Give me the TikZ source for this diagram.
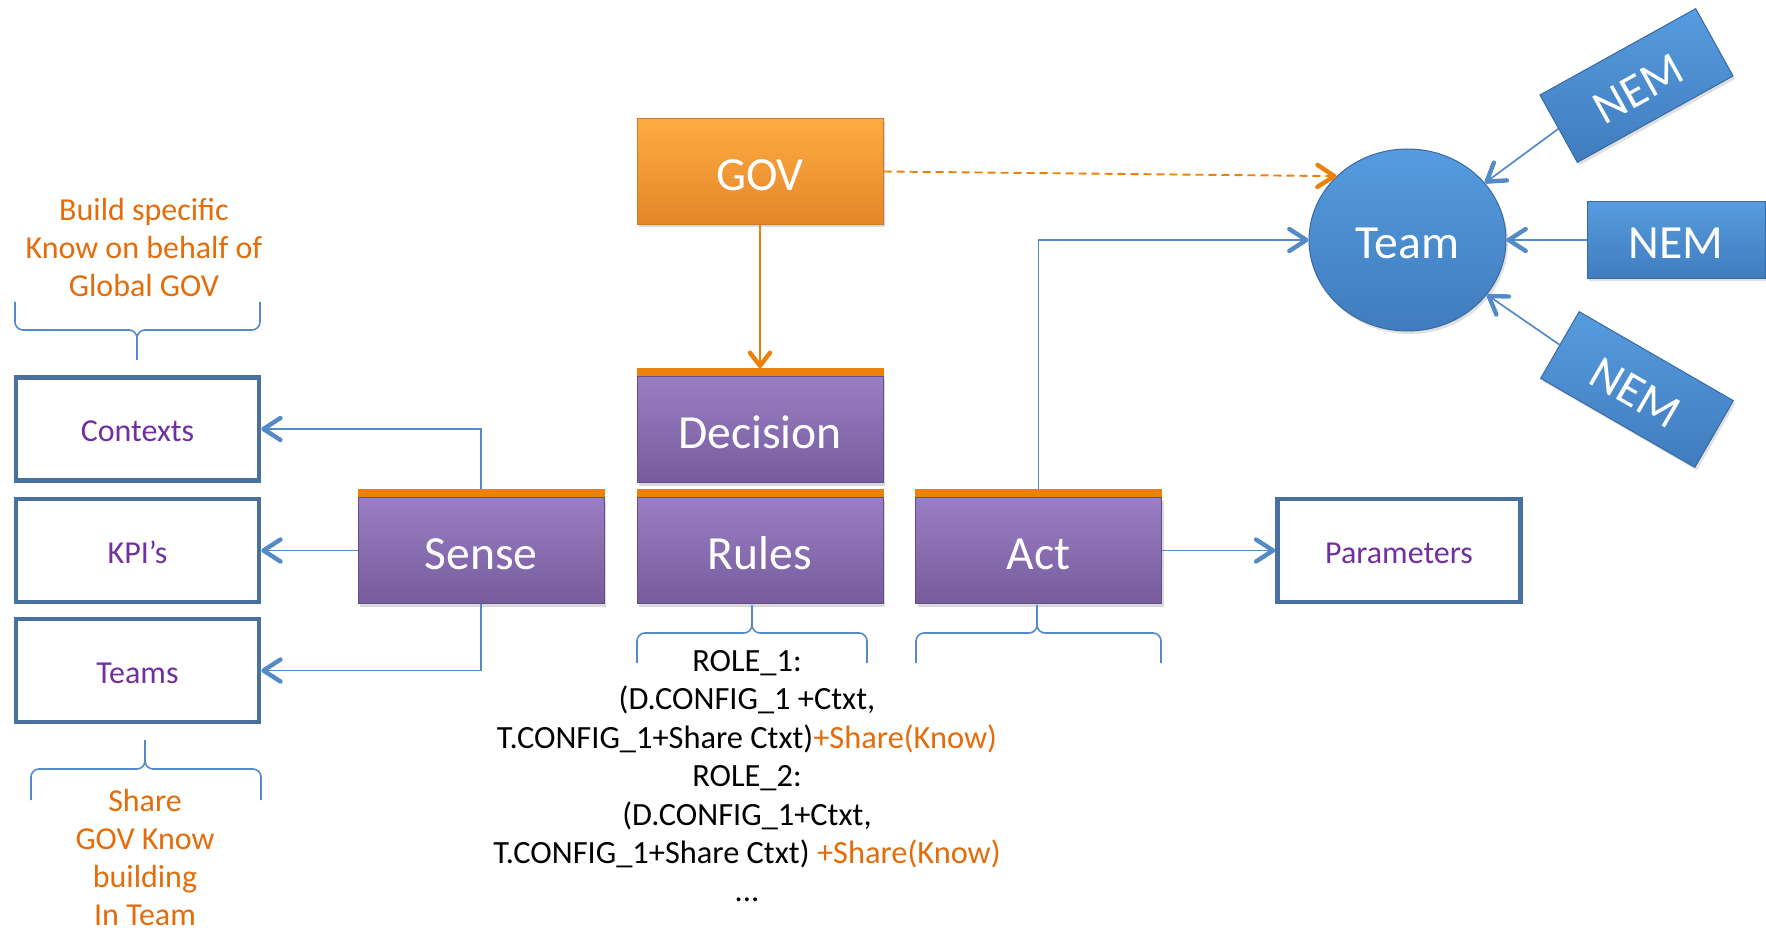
\documentclass[tikz,border=0pt]{standalone}
\usepackage{fontspec}
\setmainfont{Carlito}
\usetikzlibrary{arrows.meta, shapes.geometric, shadows}

\definecolor{govtop}{RGB}{253,172,66}
\definecolor{govbot}{RGB}{228,134,40}
\definecolor{govedge}{RGB}{205,120,40}
\definecolor{stagetop}{RGB}{154,126,196}
\definecolor{stagebot}{RGB}{118,92,156}
\definecolor{stageedge}{RGB}{100,78,135}
\definecolor{barorange}{RGB}{235,128,10}
\definecolor{teamtop}{RGB}{86,156,222}
\definecolor{teambot}{RGB}{64,124,190}
\definecolor{teamedge}{RGB}{55,105,165}
\definecolor{storeedge}{RGB}{72,112,160}
\definecolor{storetext}{RGB}{112,48,160}
\definecolor{linkblue}{RGB}{84,138,200}
\definecolor{notetext}{RGB}{228,108,10}

\begin{document}
\begin{tikzpicture}[
        x=0.5pt, y=-0.5pt,
        bigfont/.style={font=\fontsize{23.8}{28}\selectfont, text height=19pt, text depth=0pt},
        stage/.style={rectangle, minimum width=123pt, minimum height=53pt,
            top color=stagetop, bottom color=stagebot, draw=stageedge, line width=0.5pt,
            text=white, bigfont,
            drop shadow={opacity=0.3, shadow xshift=1pt, shadow yshift=-1.5pt}},
        store/.style={rectangle, draw=storeedge, line width=2.25pt,
            minimum width=121.5pt, minimum height=51.5pt, text=storetext,
            font=\fontsize{16}{19}\selectfont, text height=13pt, text depth=0pt},
        nem/.style={rectangle, minimum width=89pt, minimum height=38.5pt,
            top color=teamtop, bottom color=teambot, draw=teamedge, line width=0.5pt,
            text=white, bigfont,
            drop shadow={opacity=0.25, shadow xshift=1pt, shadow yshift=-1.5pt}},
        link/.style={draw=linkblue, line width=0.85pt,
            -{Straight Barb[length=8.5pt, width=11pt, line width=2.2pt, round]}},
        govlink/.style={draw=barorange, line width=0.95pt,
            -{Straight Barb[length=6.5pt, width=10pt, line width=2.2pt, round]}},
        note/.style={text=notetext, align=center, inner sep=0pt,
            font=\fontsize{16}{19}\selectfont},
        span/.style={draw=linkblue, line width=0.8pt, rounded corners=4pt}
    ]

    \useasboundingbox (0,0) rectangle (1766,930);

    \node[stage, top color=govtop, bottom color=govbot, draw=govedge] (gov) at (760,171.5) {GOV};
    \node[stage] (decision) at (760,429.5) {Decision};
    \node[stage] (rules) at (760,550.5) {Rules};
    \node[stage] (sense) at (481,550.5) {Sense};
    \node[stage] (act) at (1038.5,550.5) {Act};

    \node[store] (contexts) at (137.5,429) {Contexts};
    \node[store] (kpi) at (137.5,550.5) {KPI’s};
    \node[store] (teams) at (137.5,670.5) {Teams};
    \node[store] (params) at (1399,550.5) {Parameters};

    \node[ellipse, minimum width=98.5pt, minimum height=91pt, inner sep=0pt,
        top color=teamtop, bottom color=teambot, draw=teamedge, line width=0.5pt,
        text=white, bigfont,
        drop shadow={opacity=0.25, shadow xshift=1pt, shadow yshift=-1.5pt}] (team) at (1407.5,240) {Team};
    \node[nem, rotate=29] (nemtop) at (1636.5,85.5) {NEM};
    \node[nem] (nemmid) at (1676,240) {NEM};
    \node[nem, rotate=-30] (nembot) at (1637,389.5) {NEM};

    \draw[govlink, dash pattern=on 4pt off 2.5pt,
        -{Straight Barb[length=8.5pt, width=11pt, line width=2.2pt, round]}] (gov.east) -- (team.138);
    \draw[link] (act.north) |- (team.west);
    \draw[link] (sense.north) |- (contexts.east);
    \draw[link] (sense.west) -- (kpi.east);
    \draw[link] (sense.south) |- (teams.east);
    \draw[link] (act.east) -- (params.west);
    \foreach \n in {nemtop, nemmid, nembot}
        \draw[link] (\n.west) -- (team);

    \foreach \s in {decision, sense, rules, act}
        \fill[barorange] (\s.north west) rectangle ([yshift=4pt]\s.north east);
    \draw[govlink, shorten >=4pt] (gov) -- (decision);

    \draw[span] (137,360) -- (137,330) -| (15,302) (137,360) -- (137,330) -| (260,302);
    \draw[span] (145,740) -- (145,769) -| (31,800) (145,740) -- (145,769) -| (261,800);
    \draw[span] (752,605) -- (752,633) -| (637,663) (752,605) -- (752,633) -| (867,663);
    \draw[span] (1037,605) -- (1037,633) -| (916,663) (1037,605) -- (1037,633) -| (1161,663);

    \node[note, anchor=north] (buildnote) at (144,198) {Build specific\\Know on behalf of\\Global GOV};
    \node[note, anchor=north] (sharenote) at (145,789) {Share\\GOV Know\\building\\In Team};
    \node[align=center, inner sep=0pt, anchor=north, font=\fontsize{16.2}{19.2}\selectfont] (roles) at (747,650)
        {ROLE\_1:\\(D.CONFIG\_1 +Ctxt,\\T.CONFIG\_1+Share Ctxt)\textcolor{notetext}{+Share(Know)}\\
         ROLE\_2:\\(D.CONFIG\_1+Ctxt,\\T.CONFIG\_1+Share Ctxt) \textcolor{notetext}{+Share(Know)}\\...};

\end{tikzpicture}
\end{document}
